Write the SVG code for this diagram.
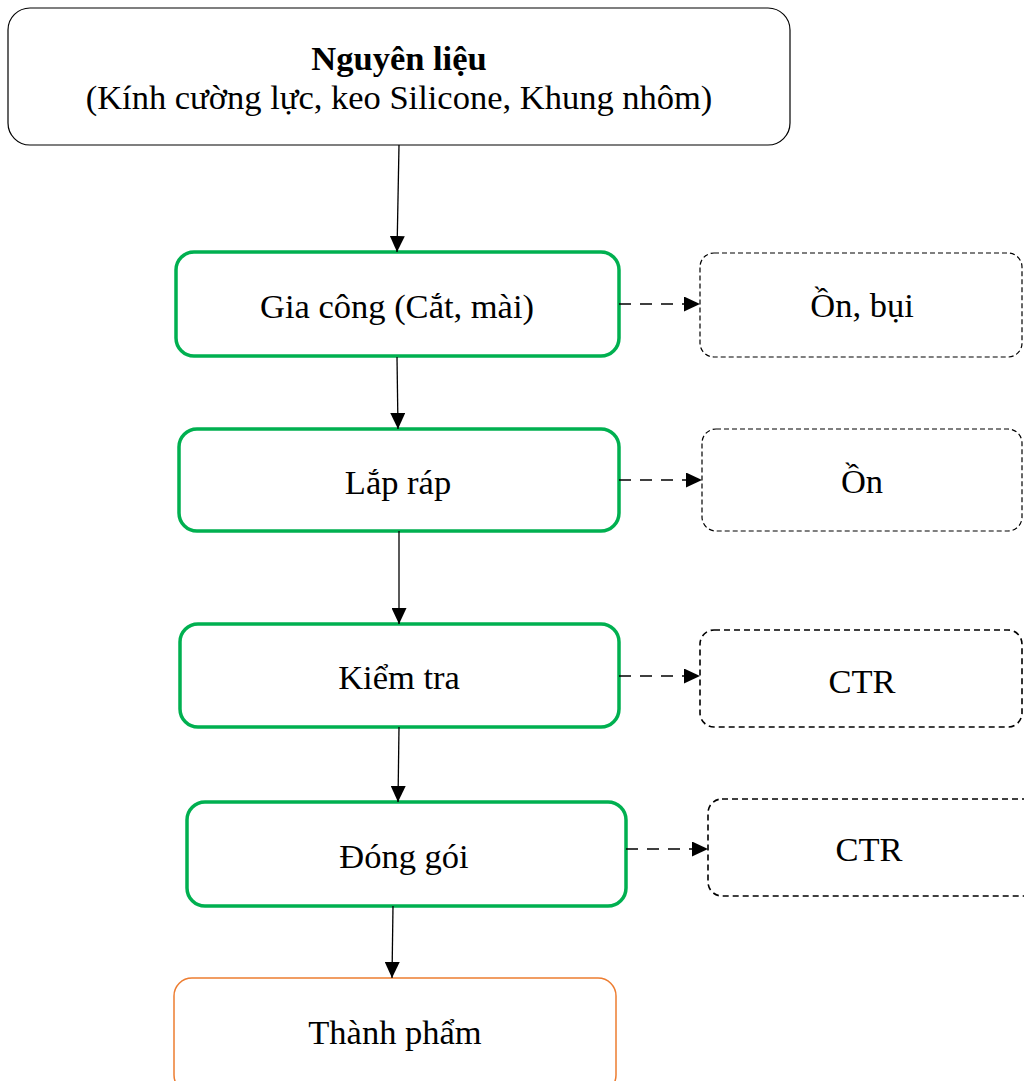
<svg xmlns="http://www.w3.org/2000/svg" width="1024" height="1081" viewBox="0 0 1024 1081">
<style>
text{font-family:"Liberation Serif","Times New Roman",serif;font-size:34.5px;fill:#000;text-anchor:middle}
.step{fill:#fff;stroke:#00B050;stroke-width:3.5}
.side{fill:#fff;stroke:#000;stroke-width:1.2;stroke-dasharray:5 3}
.side2{fill:#fff;stroke:#000;stroke-width:1.6;stroke-dasharray:6 4}
.flow{stroke:#000;stroke-width:1.3;fill:none}
.dflow{stroke:#000;stroke-width:1.6;fill:none;stroke-dasharray:12 9}
</style>
<defs>
<marker id="ah" viewBox="0 0 16 15" refX="16" refY="7.5" markerWidth="16" markerHeight="15" markerUnits="userSpaceOnUse" orient="auto">
<path d="M0,0 L16,7.5 L0,15 Z" fill="#000"/>
</marker>
</defs>
<g id="n-nguyenlieu">
<rect x="8" y="8" width="782" height="137" rx="22" fill="#fff" stroke="#000" stroke-width="1.2"/>
<text x="399" y="70" font-weight="bold">Nguyên liệu</text>
<text x="399" y="109">(Kính cường lực, keo Silicone, Khung nhôm)</text>
</g>
<g id="n-giacong">
<rect class="step" x="176" y="252" width="443" height="104" rx="18"/>
<text x="397" y="318">Gia công (Cắt, mài)</text>
</g>
<g id="n-laprap">
<rect class="step" x="179" y="429" width="440" height="102" rx="18"/>
<text x="398" y="494">Lắp ráp</text>
</g>
<g id="n-kiemtra">
<rect class="step" x="180" y="624" width="439" height="103" rx="18"/>
<text x="399" y="689">Kiểm tra</text>
</g>
<g id="n-donggoi">
<rect class="step" x="187" y="802" width="439" height="104" rx="18"/>
<text x="404" y="868">Đóng gói</text>
</g>
<g id="n-thanhpham">
<rect x="174" y="978" width="442" height="115" rx="18" fill="#fff" stroke="#ED7D31" stroke-width="1.5"/>
<text x="395" y="1044">Thành phẩm</text>
</g>
<g id="n-onbui">
<rect class="side" x="700" y="253" width="322" height="104" rx="14"/>
<text x="862" y="317">Ồn, bụi</text>
</g>
<g id="n-on">
<rect class="side" x="702" y="429" width="320" height="102" rx="14"/>
<text x="862" y="493">Ồn</text>
</g>
<g id="n-ctr1">
<rect class="side2" x="700" y="630" width="322" height="97" rx="14"/>
<text x="862" y="693">CTR</text>
</g>
<g id="n-ctr2">
<rect class="side2" x="708" y="799" width="330" height="97" rx="14"/>
<text x="869" y="861">CTR</text>
</g>
<g id="connectors">
<line class="flow" x1="399" y1="145" x2="397" y2="252" marker-end="url(#ah)"/>
<line class="flow" x1="397" y1="357" x2="398" y2="429" marker-end="url(#ah)"/>
<line class="flow" x1="399" y1="531" x2="399" y2="624" marker-end="url(#ah)"/>
<line class="flow" x1="399" y1="727" x2="398" y2="802" marker-end="url(#ah)"/>
<line class="flow" x1="393" y1="906" x2="392" y2="978" marker-end="url(#ah)"/>
<line class="dflow" x1="619" y1="304" x2="700" y2="304" marker-end="url(#ah)"/>
<line class="dflow" x1="619" y1="480" x2="702" y2="480" marker-end="url(#ah)"/>
<line class="dflow" x1="619" y1="676" x2="700" y2="676" marker-end="url(#ah)"/>
<line class="dflow" x1="626" y1="849" x2="708" y2="849" marker-end="url(#ah)"/>
</g>
</svg>
